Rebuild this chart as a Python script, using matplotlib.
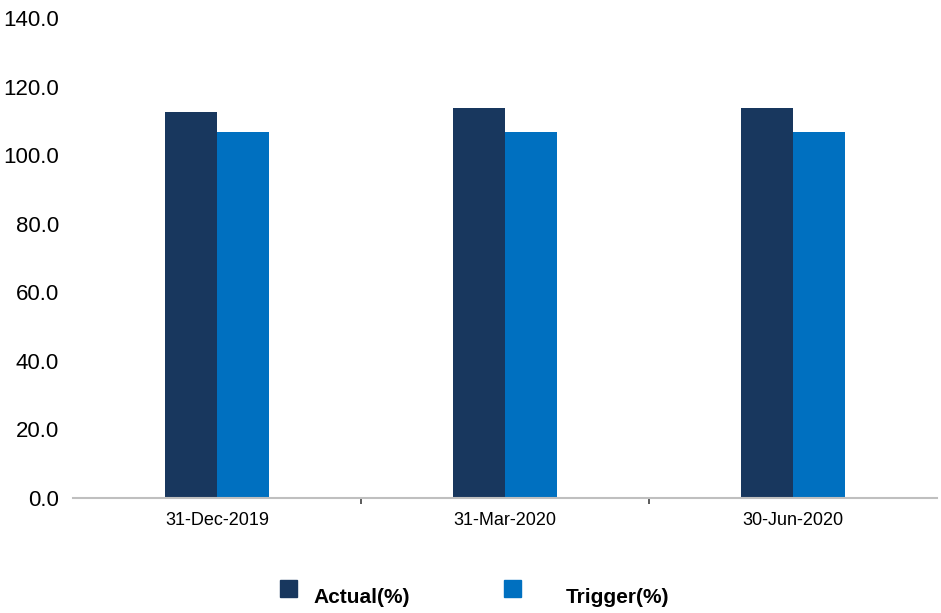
import matplotlib.pyplot as plt
import numpy as np
from matplotlib.patches import Rectangle

plt.rcParams['font.family'] = ['Liberation Sans', 'DejaVu Sans']

dates = ["31-Dec-2019", "31-Mar-2020", "30-Jun-2020"]
actual = [112.6, 113.7, 113.7]
trigger = [106.7, 106.7, 106.7]
yticks = [0, 20, 40, 60, 80, 100, 120, 140]
series_names = ["Actual(%)", "Trigger(%)"]

dark_blue = "#18375E"
light_blue = "#0070C0"

W, H = 941, 613
fig = plt.figure(figsize=(W / 100, H / 100), dpi=100)
ax = fig.add_axes([73 / W, 115 / H, 864 / W, 480 / H])

x = np.arange(len(dates))
w = 0.18
ax.bar(x - w / 2, actual, w, color=dark_blue)
ax.bar(x + w / 2, trigger, w, color=light_blue)

ax.set_xlim(-0.5, len(dates) - 0.5)
ax.set_ylim(0, 140)
ax.set_yticks(yticks)
ax.set_yticklabels([f"{v:.1f}" for v in yticks], fontsize=16)
ax.set_xticks(x)
ax.set_xticklabels(dates, fontsize=13)
ax.set_xticks(x[:-1] + 0.5, minor=True)
ax.tick_params(axis='y', length=0, pad=10)
ax.tick_params(axis='x', which='major', length=0, pad=10)
ax.tick_params(axis='x', which='minor', length=4, width=1.2, color='#404040', direction='out')

for side in ['top', 'right', 'left']:
    ax.spines[side].set_visible(False)
ax.spines['bottom'].set_color('#BFBFBF')
ax.spines['bottom'].set_linewidth(1.5)

# legend drawn by hand: square swatch then bold label, in pixel positions
legend_items = [(280, 313, dark_blue), (504, 566, light_blue)]
for (sx, tx, col), name in zip(legend_items, series_names):
    fig.patches.append(Rectangle((sx / W, (H - 597) / H), 17 / W, 17 / H,
                                 transform=fig.transFigure, color=col))
    fig.text(tx / W, (H - 603) / H, name, fontsize=15, fontweight='bold',
             ha='left', va='baseline')

fig.savefig("out.png", dpi=100)
